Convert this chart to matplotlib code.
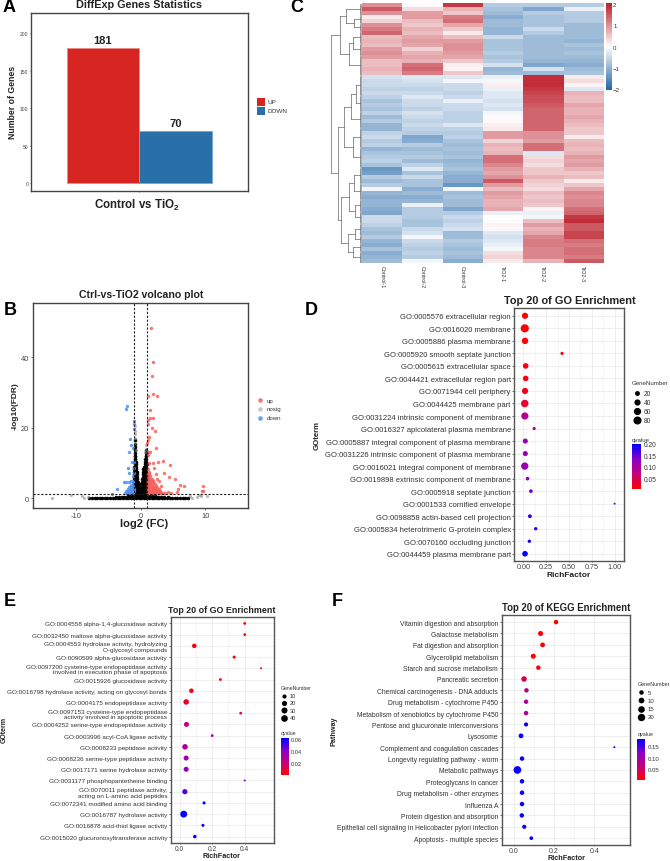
import numpy as np
import matplotlib
matplotlib.use('Agg')
import matplotlib.pyplot as plt
from matplotlib.colors import LinearSegmentedColormap, Normalize

plt.rcParams['font.family'] = ['Liberation Sans', 'DejaVu Sans']
plt.rcParams['mathtext.fontset'] = 'custom'
plt.rcParams['mathtext.bf'] = 'Liberation Sans:bold'
plt.rcParams['mathtext.rm'] = 'Liberation Sans'

W, H = 670, 862

# ---- panel A
bar_groups = ['UP', 'DOWN']
bar_counts = [181, 70]
bar_ticks = [0, 50, 100, 150, 200]

# ---- panel C, z-scores read per row (65 bands from top to bottom)
heat_columns = ['Control-1', 'Control-2', 'Control-3', 'TiO2-1', 'TiO2-2', 'TiO2-3']
heat_c1 = [1.0, 1.5, 1.0, 0.2, 0.4, 1.0, 1.2, 1.4, 0.6, 0.7, 0.6, 0.9, 1.0, 0.9, 0.6, 0.6, 0.7, 0.6,
           -0.4, -0.5, -0.5, -0.6, -0.5, -0.6, -0.8, -0.7, -0.8, -0.6, -0.9, -0.7, -1.0, -1.0, -0.6,
           -0.5, -0.7, -0.6, -1.0, -0.8, -0.7, -0.6, -0.8, -1.4, -1.3, -0.7, -0.9, -0.7, -0.1, -1.0, -1.1,
           -1.0, -1.0, -1.1, -1.2, -0.5, -0.5, -0.6, -0.8, -0.9, -0.7, -1.0, -1.1, -0.8, -1.1, -1.0, -0.9]
heat_c2 = [0.05, 0.3, 0.9, 0.9, 0.6, 0.5, 0.7, 0.6, 0.8, 0.9, 0.8, 0.4, 0.7, 0.8, 0.7, 1.3, 1.4, 1.2,
           -0.3, -0.4, -0.5, -0.6, -0.5, -0.3, -0.5, -0.5, -0.6, -0.4, -0.5, -0.6, -0.5, -0.6, -0.7,
           -1.2, -1.1, -0.7, -0.9, -0.8, -0.7, -0.9, -0.6, -0.3, -0.8, -0.5, -0.8, -0.8, -1.1, -0.9, -1.1,
           -1.0, -0.2, -0.7, -0.7, -0.7, -0.8, -0.8, -0.5, -0.4, -0.1, -0.5, -0.6, -0.7, -0.6, -0.7, -0.1]
heat_c3 = [1.8, 0.7, 0.5, 1.2, 1.3, 0.8, 0.5, 0.2, 0.6, 0.9, 1.0, 1.0, 0.9, 0.8, 0.5, 0.15, 0.1, 0.5,
           -0.3, -0.1, -0.5, -0.5, -0.6, -0.5, -0.2, -0.5, -0.5, -0.6, -0.6, -0.6, -0.3, -0.6, -0.7,
           -0.6, -0.8, -0.9, -0.8, -0.9, -0.8, -1.0, -0.9, -0.8, -1.0, -1.1, -1.1, -1.4, -0.1, -0.9, -0.8,
           -0.9, -0.9, -1.2, -0.7, -0.5, -0.6, -0.5, -0.4, -0.9, -0.9, -0.7, -0.8, -0.9, -0.8, -0.9, -1.1]
heat_c4 = [-0.7, -0.8, -0.9, -1.1, -0.9, -0.9, -1.0, -1.0, -0.5, -0.8, -0.8, -0.8, -0.7, -0.8, -0.7, -0.4, -1.0, -0.9,
           -0.2, -0.1, 0.15, -0.2, -0.3, -0.3, -0.4, -0.3, -0.4, -0.1, 0.05, 0.05, 0.15, 0.2, 0.9,
           0.9, 0.4, 0.7, 0.6, 0.7, 1.3, 1.3, 1.1, 0.9, 0.8, 1.0, 1.5, 0.9, 0.6, 0.9, 0.8,
           0.7, 0.7, 0.8, -0.2, 0.0, 0.02, 0.1, 0.05, -0.3, -0.4, -0.3, -0.2, -0.1, 0.3, 0.4, 0.2]
heat_c5 = [-0.7, -1.2, -0.7, -0.8, -0.8, -0.8, -0.5, -0.7, -0.9, -0.9, -0.9, -0.9, -0.9, -0.9, -1.0, -1.2, -0.4, -0.9,
           1.9, 1.9, 1.9, 1.8, 1.7, 1.6, 1.6, 1.5, 1.4, 1.4, 1.4, 1.4, 1.4, 1.4, 1.0,
           1.0, 0.9, 1.3, 1.3, -0.3, 0.3, 0.4, 0.3, 0.5, 0.5, 0.7, 0.5, 0.4, 0.3, 0.6, 0.5,
           0.6, 0.5, 0.1, -0.2, -0.1, 0.6, 0.9, 0.7, 0.8, 1.1, 1.2, 1.2, 1.1, 1.1, 1.1, 0.7]
heat_c6 = [-0.7, -0.2, -0.7, -0.7, -0.7, -0.9, -0.9, -0.9, -0.9, -1.0, -0.8, -0.9, -0.8, -0.9, -1.0, -1.1, -0.9, -0.8,
           0.2, 0.3, 0.1, -0.3, 0.7, 0.6, 0.6, 0.8, 0.7, 0.7, 0.8, 0.7, 0.6, 0.5, 0.5,
           0.2, 0.6, 0.7, 0.6, 0.7, 0.9, 0.8, 0.9, 0.7, 0.5, 0.6, 0.2, 0.5, 0.8, 1.1, 1.0,
           1.1, 1.1, 1.3, 1.4, 1.8, 1.9, 1.5, 1.5, 1.7, 1.7, 1.3, 1.2, 1.3, 1.3, 1.2, 1.5]
# dendrogram, (height, left, right), an int is a bundle of rows
tree_top = (22, (16, 3, (8, 2, 2)), (13, (9, 3, 3), 5))
tree_upper = (18, (11, (6, 5, 4), 4), (9, 5, 5))
tree_lower = (21, (13, (8, 4, 4), (7, 3, 3)), (14, (7, 3, 2), (9, 2, 3)))
tree_root = (30.5, tree_top, (24, tree_upper, tree_lower))

# ---- panel B, points
up_points = [(1.55, 48.2), (1.86, 38.6), (1.75, 34.8), (1.86, 29.6), (2.58, 29.0), (1.2, 29.0), (1.5, 25.0),
             (1.5, 22.7), (2.0, 22.7), (1.13, 22.3), (1.13, 21.0), (1.7, 20.0), (2.27, 19.2), (1.3, 17.3),
             (1.08, 15.7), (1.2, 16.6), (2.37, 14.4), (1.13, 13.2), (1.5, 13.0), (1.1, 12.4), (1.34, 10.0),
             (2.0, 10.0), (2.68, 10.2), (3.5, 10.5), (4.6, 9.5), (1.2, 8.4), (2.06, 8.5), (1.34, 7.6),
             (2.4, 6.9), (3.56, 7.3), (4.33, 6.0), (5.26, 5.6), (6.03, 3.8), (6.75, 3.6), (5.8, 2.6),
             (9.7, 3.4), (9.43, 2.2), (9.64, 2.0), (4.7, 1.5), (5.6, 1.9), (3.2, 3.6), (2.8, 4.9), (2.5, 5.6),
             (3.8, 1.6), (4.2, 1.7)]
# the solid red wedge, each row is one height with its x values
up_rows = [
    (1.5, [1.1, 1.36, 1.62, 1.88, 2.14, 2.4, 2.66, 2.92, 3.18, 3.4]),
    (2.0, [1.1, 1.38, 1.66, 1.94, 2.22, 2.5, 2.78, 3.0]),
    (2.5, [1.12, 1.4, 1.68, 1.96, 2.24, 2.52, 2.8]),
    (3.0, [1.1, 1.38, 1.66, 1.94, 2.22, 2.6]),
    (3.5, [1.12, 1.4, 1.68, 1.96, 2.4]),
    (4.0, [1.1, 1.4, 1.7, 2.2]),
    (4.5, [1.12, 1.42, 1.72, 2.0]),
    (5.0, [1.1, 1.4, 1.9]),
    (5.6, [1.12, 1.42, 1.7]),
    (6.2, [1.1, 1.5]),
    (6.8, [1.12, 1.3]),
]
down_points = [(-2.06, 26.1), (-2.3, 25.4), (-0.98, 22.0), (-1.02, 21.0), (-0.95, 19.7), (-1.65, 16.8),
               (-1.44, 15.1), (-1.13, 14.2), (-1.75, 13.0), (-1.3, 10.3), (-1.0, 10.4), (-1.86, 8.5),
               (-1.75, 7.2), (-1.0, 7.1), (-2.58, 4.7), (-2.27, 4.7), (-1.4, 5.0), (-1.15, 6.4), (-3.56, 2.6),
               (-4.4, 1.3), (-2.4, 1.5), (-2.1, 1.5), (-1.8, 1.6), (-1.5, 1.5), (-1.2, 1.5), (-2.2, 2.0),
               (-1.9, 2.1), (-1.6, 2.0), (-1.3, 2.1), (-1.05, 2.0), (-1.9, 2.6), (-1.6, 2.6), (-1.3, 2.7),
               (-1.05, 2.6), (-1.7, 3.2), (-1.4, 3.2), (-1.1, 3.3), (-1.5, 3.8), (-1.2, 3.9), (-1.1, 4.5),
               (-1.2, 5.0), (-1.7, 4.7), (-1.05, 8.6)]
nosig_points = [(-13.7, 0.0), (-10.7, 0.95), (-9.1, 0.55), (-8.8, 0.2), (-8.1, 0.3), (7.6, 0.6), (7.9, 0.2),
                (8.7, 0.3), (9.4, 0.75), (10.3, 0.6), (9.0, 0.9), (-0.9, 20.6), (-0.85, 19.2), (-0.92, 18.2),
                (-0.8, 17.2), (0.8, 15.0), (0.9, 14.0), (0.7, 13.2), (-0.85, 15.6), (-0.7, 13.6)]
# black mass: each row is one height with the x values seen there
dense_rows = [
    (0.2, [-7.9, -7.5, -7.1, -6.7, -6.3, -5.9, -5.5, -5.1, -4.7, -4.3, -3.9, -3.5, -3.1, -2.7, -2.3, -1.9, -1.5, -1.1,
           -0.7, -0.3, 0.1, 0.5, 0.9, 1.3, 1.7, 2.1, 2.5, 2.9, 3.3, 3.7, 4.1, 4.5, 4.9, 5.3, 5.7, 6.1, 6.5, 6.9, 7.3]),
    (0.5, [-3.8, -3.3, -2.9, -2.5, -2.1, -1.7, -1.3, -0.9, -0.5, -0.1, 0.3, 0.7, 1.1, 1.5, 1.9, 2.3, 2.7, 3.1, 3.6, 4.2]),
    (0.9, [-1.9, -1.5, -1.1, -0.7, -0.3, 0.1, 0.5, 0.9, 1.3, 1.7, 2.2]),
    (1.3, [-1.2, -0.8, -0.4, 0.0, 0.3, 0.7, 1.0]),
    (1.9, [-1.0, -0.7, -0.4, -0.15, 0.15, 0.4, 0.7, 0.95]),
    (2.6, [-1.0, -0.7, -0.42, -0.2, 0.2, 0.45, 0.7, 0.95]),
    (3.3, [-0.98, -0.72, -0.45, -0.25, 0.22, 0.5, 0.75, 0.98]),
    (4.0, [-0.98, -0.7, -0.48, -0.3, 0.25, 0.52, 0.76, 0.98]),
    (4.7, [-0.96, -0.72, -0.5, -0.32, 0.28, 0.55, 0.78, 0.97]),
    (5.4, [-0.97, -0.74, -0.52, 0.3, 0.58, 0.8, 0.98]),
    (6.1, [-0.96, -0.75, -0.55, 0.33, 0.6, 0.8, 0.97]),
    (6.8, [-0.97, -0.76, -0.57, 0.36, 0.62, 0.82, 0.98]),
    (7.5, [-0.95, -0.75, -0.6, 0.4, 0.65, 0.85]),
    (8.2, [-0.96, -0.78, -0.62, 0.45, 0.7, 0.88]),
    (8.9, [-0.95, -0.78, -0.65, 0.55, 0.75, 0.9]),
    (9.6, [-0.9, -0.72, 0.62, 0.8, 0.95]),
    (10.4, [-0.92, -0.75, 0.7, 0.88]),
    (11.2, [-0.88, -0.78, 0.75, 0.92]),
    (12.0, [-0.9, -0.8, 0.78, 0.9]),
    (12.8, [-0.88, 0.82, 0.95]),
    (13.6, [-0.92, 0.85]),
    (14.5, [-0.85]),
    (15.5, [-0.9]),
    (16.5, [-0.88]),
]

# ---- panel D
d_terms = ['GO:0005576 extracellular region', 'GO:0016020 membrane', 'GO:0005886 plasma membrane',
           'GO:0005920 smooth septate junction', 'GO:0005615 extracellular space',
           'GO:0044421 extracellular region part', 'GO:0071944 cell periphery', 'GO:0044425 membrane part',
           'GO:0031224 intrinsic component of membrane', 'GO:0016327 apicolateral plasma membrane',
           'GO:0005887 integral component of plasma membrane', 'GO:0031226 intrinsic component of plasma membrane',
           'GO:0016021 integral component of membrane', 'GO:0019898 extrinsic component of membrane',
           'GO:0005918 septate junction', 'GO:0001533 cornified envelope', 'GO:0098858 actin-based cell projection',
           'GO:0005834 heterotrimeric G-protein complex', 'GO:0070160 occluding junction',
           'GO:0044459 plasma membrane part']
d_rich = [0.019, 0.016, 0.019, 0.424, 0.026, 0.026, 0.019, 0.016, 0.017, 0.119, 0.022, 0.022, 0.016, 0.046,
          0.083, 1.0, 0.072, 0.136, 0.066, 0.019]
d_genes = [40, 84, 44, 5, 30, 30, 40, 66, 60, 5, 22, 22, 62, 8, 8, 2, 10, 6, 6, 30]
d_q = [0.006, 0.007, 0.007, 0.01, 0.015, 0.015, 0.02, 0.03, 0.09, 0.10, 0.12, 0.12, 0.12, 0.14, 0.15, 0.16,
       0.17, 0.18, 0.19, 0.2]

# ---- panel E
e_terms = ['GO:0004558 alpha-1,4-glucosidase activity', 'GO:0032450 maltose alpha-glucosidase activity',
           'GO:0004553 hydrolase activity, hydrolyzing\nO-glycosyl compounds', 'GO:0090599 alpha-glucosidase activity',
           'GO:0097200 cysteine-type endopeptidase activity\ninvolved in execution phase of apoptosis',
           'GO:0015926 glucosidase activity', 'GO:0016798 hydrolase activity, acting on glycosyl bonds',
           'GO:0004175 endopeptidase activity', 'GO:0097153 cysteine-type endopeptidase\nactivity involved in apoptotic process',
           'GO:0004252 serine-type endopeptidase activity', 'GO:0003996 acyl-CoA ligase activity',
           'GO:0008233 peptidase activity', 'GO:0008236 serine-type peptidase activity',
           'GO:0017171 serine hydrolase activity', 'GO:0031177 phosphopantetheine binding',
           'GO:0070011 peptidase activity,\nacting on L-amino acid peptides', 'GO:0072341 modified amino acid binding',
           'GO:0016787 hydrolase activity', 'GO:0016878 acid-thiol ligase activity',
           'GO:0015020 glucuronosyltransferase activity']
e_rich = [0.4, 0.4, 0.09, 0.335, 0.5, 0.25, 0.072, 0.04, 0.375, 0.042, 0.2, 0.033, 0.04, 0.04, 0.4, 0.032,
          0.15, 0.025, 0.143, 0.093]
e_genes = [3, 3, 13, 4, 2, 3, 13, 24, 3, 18, 3, 24, 18, 18, 2, 20, 4, 44, 4, 6]
e_q = [0.002, 0.002, 0.003, 0.003, 0.004, 0.005, 0.006, 0.008, 0.01, 0.022, 0.035, 0.03, 0.037, 0.04, 0.047,
       0.05, 0.062, 0.062, 0.062, 0.062]

# ---- panel F
f_terms = ['Vitamin digestion and absorption', 'Galactose metabolism', 'Fat digestion and absorption',
           'Glycerolipid metabolism', 'Starch and sucrose metabolism', 'Pancreatic secretion',
           'Chemical carcinogenesis - DNA adducts', 'Drug metabolism - cytochrome P450',
           'Metabolism of xenobiotics by cytochrome P450', 'Pentose and glucuronate interconversions', 'Lysosome',
           'Complement and coagulation cascades', 'Longevity regulating pathway - worm', 'Metabolic pathways',
           'Proteoglycans in cancer', 'Drug metabolism - other enzymes', 'Influenza A', 'Protein digestion and absorption',
           'Epithelial cell signaling in Helicobacter pylori infection', 'Apoptosis - multiple species']
f_rich = [0.21, 0.133, 0.143, 0.097, 0.122, 0.051, 0.063, 0.061, 0.061, 0.061, 0.036, 0.5, 0.041, 0.018, 0.041,
          0.041, 0.041, 0.04, 0.052, 0.087]
f_genes = [5, 7, 6, 7, 5, 9, 5, 5, 5, 4, 6, 1, 5, 22, 5, 5, 5, 5, 4, 3]
f_q = [0.005, 0.005, 0.006, 0.006, 0.01, 0.04, 0.08, 0.09, 0.09, 0.18, 0.18, 0.18, 0.18, 0.18, 0.18, 0.18, 0.18,
       0.18, 0.18, 0.18]

fig = plt.figure(figsize=(W / 100, H / 100), dpi=100)


def px_axes(left, top, right, bottom, **kw):
    return fig.add_axes([left / W, 1 - bottom / H, (right - left) / W, (bottom - top) / H], **kw)


# overlay in pixel coordinates for titles and legends
over = fig.add_axes([0, 0, 1, 1], zorder=10)
over.set_xlim(0, W)
over.set_ylim(H, 0)
over.axis('off')


def label(x, y, s, size=5, weight='normal', color='#333333', ha='center', rotation=0):
    over.text(x, y, s, fontsize=size, fontweight=weight, color=color, ha=ha, va='center', rotation=rotation)


for letter, lx, ly in [('A', 3, 7), ('C', 290, 7), ('B', 4, 311), ('D', 305, 311), ('E', 4, 602), ('F', 332, 602)]:
    label(lx, ly, letter, size=13, weight='bold', color='black', ha='left')

# A: bars
ax = px_axes(31, 14, 248, 192)
ax.bar([-0.5, 0.5], bar_counts, width=1, color=['#D62421', '#2A70A8'], edgecolor=['#E88A86', '#78A8CF'], linewidth=0.6)
for i, c in enumerate(bar_counts):
    ax.text(i - 0.5, c + 4, str(c), ha='center', va='bottom', fontsize=8, fontweight='bold', color='#222222')
ax.set_xlim(-1.49, 1.503)
ax.set_ylim(-10.3, 227)
ax.set_xticks([0])
ax.set_xticklabels([''])
ax.set_yticks(bar_ticks)
ax.tick_params(axis='y', labelsize=3.6, length=1, width=0.4, pad=1, labelcolor='#444444')
ax.tick_params(axis='x', length=1, width=0.4)
for s in ax.spines.values():
    s.set_linewidth(1)
    s.set_color('#444444')
label(139, 4.7, 'DiffExp Genes Statistics', size=7.8, weight='bold', color='#222222')
label(12.3, 102.7, 'Number of Genes', size=6.3, weight='bold', color='#222222', rotation=90)
label(137, 205, r'Control vs TiO$\mathbf{_2}$', size=8.3, weight='bold', color='#222222')
over.fill_between([257, 264.5], 98.5, 106.5, color='#D62421', lw=0)
over.fill_between([257, 264.5], 107.5, 115.5, color='#2A70A8', lw=0)
label(268, 102.5, bar_groups[0], size=4.6, ha='left')
label(268, 111.5, bar_groups[1], size=4.6, ha='left')

# C: heatmap
heat = np.array([heat_c1, heat_c2, heat_c3, heat_c4, heat_c5, heat_c6]).T
heat_cmap = LinearSegmentedColormap.from_list('heat', ['#2A6BAA', '#FFFFFF', '#BE2430'])
ax = px_axes(361.7, 4, 603, 264)
ax.imshow(heat, aspect='auto', cmap=heat_cmap, vmin=-2, vmax=2, interpolation='nearest')
ax.axis('off')
for i, name in enumerate(heat_columns):
    over.text(361.7 + (i + 0.5) * 40.2, 266, name, fontsize=3.9, rotation=270, ha='center', va='top', color='#333333')

cax = px_axes(605.7, 4, 611.7, 91)
cax.imshow(np.linspace(2.05, -2.05, 200)[:, None], aspect='auto', cmap=heat_cmap, vmin=-2, vmax=2,
           extent=[0, 1, -2.05, 2.05])
cax.set_xticks([])
cax.yaxis.tick_right()
cax.set_yticks([-2, -1, 0, 1, 2])
cax.tick_params(axis='y', length=0, labelsize=4.4, pad=1, labelcolor='#333333')
for s in cax.spines.values():
    s.set_visible(False)

dax = px_axes(329, 4, 361.7, 264)
dax.set_xlim(32.7, 0)
dax.set_ylim(65, 0)
dax.axis('off')
row_pos = [0]


def draw_tree(node):
    # returns the row centre of the node
    if isinstance(node, int):
        start = row_pos[0]
        row_pos[0] += node
        ys = [start + j * 0.25 + 0.125 for j in range(node * 4)]
        dax.hlines(ys, 0, 1.6, color='#8a8a8a', lw=0.5)
        dax.vlines(1.6, ys[0], ys[-1], color='#777777', lw=0.5)
        return start + node / 2
    h, left, right = node
    y1 = draw_tree(left)
    y2 = draw_tree(right)
    for y, child in ((y1, left), (y2, right)):
        hc = 1.6 if isinstance(child, int) else child[0]
        dax.plot([hc, h], [y, y], color='#666666', lw=0.5)
    dax.plot([h, h], [y1, y2], color='#666666', lw=0.5)
    return (y1 + y2) / 2


draw_tree(tree_root)

# B: volcano
ax = px_axes(33, 303.7, 248, 508.7)
for y, xs in dense_rows:
    ax.scatter(xs, [y] * len(xs), s=6.5, color='black', lw=0, zorder=2)
nx, ny = zip(*nosig_points)
ax.scatter(nx, ny, s=5, color='#8c8c8c', alpha=0.6, lw=0, zorder=2)
ux, uy = zip(*up_points)
ax.scatter(ux, uy, s=6, color='#F8605C', alpha=0.85, lw=0, zorder=3)
for y, xs in up_rows:
    ax.scatter(xs, [y] * len(xs), s=7, color='#F8605C', alpha=0.85, lw=0, zorder=3)
bx, by = zip(*down_points)
ax.scatter(bx, by, s=6, color='#4D8FF5', alpha=0.85, lw=0, zorder=3)
ax.axvline(-1, color='#222222', ls=(0, (2, 1.5)), lw=0.8, zorder=4)
ax.axvline(1, color='#222222', ls=(0, (2, 1.5)), lw=0.8, zorder=4)
ax.axhline(1.3, color='#222222', ls=(0, (2, 1.5)), lw=0.8, zorder=4)
ax.set_xlim(-16.6, 16.6)
ax.set_ylim(-2.67, 55.5)
ax.set_xticks([-10, 0, 10])
ax.set_xticklabels(['-10', '0', '10'])
ax.set_yticks([0, 20, 40])
ax.tick_params(labelsize=5.4, length=1.5, width=0.4, pad=1.5, labelcolor='#444444')
for s in ax.spines.values():
    s.set_linewidth(1)
    s.set_color('#444444')
label(140.7, 294.7, 'Ctrl-vs-TiO2 volcano plot', size=7.6, weight='bold', color='#222222')
label(144, 524, 'log2 (FC)', size=8, weight='bold', color='#222222')
label(15.5, 406, '-log10(FDR)', size=6, weight='bold', color='#222222', rotation=90)
for name, col, ly in [('up', '#F8605C', 401.3), ('nosig', '#BDBDBD', 410), ('down', '#4D8FF5', 418.7)]:
    over.scatter([260.3], [ly], s=11, color=col, alpha=0.85, lw=0)
    label(266.7, ly, name, size=4.4, ha='left')

# D, E, F: enrichment dots
q_cmap = LinearSegmentedColormap.from_list('q', ['#FF0000', '#C4007C', '#8A00C8', '#0000FF'])


def gene_diam(g, gmin, gmax, dmin, dmax):
    return dmin + (dmax - dmin) * np.sqrt((np.array(g, dtype=float) - gmin) / (gmax - gmin))


def dots(box, xlim, xticks, xfmt, terms, rich, genes, q, qlim, grange, drange, tsize):
    ax = px_axes(*box)
    ypos = np.arange(len(terms))
    ax.scatter(rich, ypos, s=(gene_diam(genes, *grange, *drange) * 0.72) ** 2,
               c=q, cmap=q_cmap, norm=Normalize(*qlim), lw=0, zorder=3)
    ax.set_xlim(*xlim)
    ax.set_ylim(len(terms) - 0.4, -0.6)
    ax.set_yticks(ypos)
    ax.set_yticklabels(terms, linespacing=1.1, ha='right')
    ax.set_xticks(xticks)
    ax.set_xticklabels([xfmt % t for t in xticks])
    ax.set_xticks([(a + b) / 2 for a, b in zip(xticks[:-1], xticks[1:])], minor=True)
    ax.tick_params(axis='y', labelsize=tsize, length=1.5, width=0.4, pad=1, labelcolor='#333333')
    ax.tick_params(axis='x', labelsize=min(tsize, 5) + 0.2, length=1, width=0.4, pad=0.4, labelcolor='#444444')
    ax.tick_params(axis='x', which='minor', length=0)
    ax.grid(True, which='major', color='#E8E8E8', lw=0.5)
    ax.grid(True, which='minor', axis='x', color='#F0F0F0', lw=0.4)
    ax.set_axisbelow(True)
    for s in ax.spines.values():
        s.set_linewidth(1)
        s.set_color('#555555')
    return ax


def size_legend(tx, ty, dx, lx, ys, values, grange, drange, tsize):
    label(tx, ty, 'GeneNumber', size=tsize, ha='left')
    for v, ly in zip(values, ys):
        d = gene_diam(v, *grange, *drange) * 0.72
        over.scatter([dx], [ly], s=d ** 2, color='black', lw=0)
        label(lx, ly, str(v), size=tsize + 0.4, ha='left')


def q_legend(box, tty, lx, qlim, ticks, fmt, tsize):
    label(box[0], tty, 'qvalue', size=tsize, ha='left')
    bar = px_axes(*box)
    bar.imshow(np.linspace(qlim[1], qlim[0], 200)[:, None], aspect='auto', cmap=q_cmap, norm=Normalize(*qlim),
               extent=[0, 1, qlim[0], qlim[1]])
    bar.axis('off')
    for t in ticks:
        ly = box[1] + (qlim[1] - t) / (qlim[1] - qlim[0]) * (box[3] - box[1])
        label(lx, ly, fmt % t, size=tsize + 0.4, ha='left')


d_range = (2, 84)
d_px = (2, 8.2)
e_range = (2, 44)
e_px = (2, 6.9)
f_range = (1, 22)
f_px = (2, 7.7)

dots((514.3, 309.3, 624, 562.3), (-0.0986, 1.103), [0, 0.25, 0.5, 0.75, 1.0], '%.2f', d_terms, d_rich, d_genes, d_q,
     (0.006, 0.203), d_range, d_px, 5.5)
label(569.5, 301, 'Top 20 of GO Enrichment', size=7.9, weight='bold', color='#222222')
label(569, 576, 'RichFactor', size=6, weight='bold', color='#222222')
label(317, 436, 'GOterm', size=5.6, weight='bold', color='#222222', rotation=90)
size_legend(632, 384, 636.7, 644, [394.3, 403.3, 412.3, 421.3], [20, 40, 60, 80], d_range, d_px, 4.4)
q_legend((632, 445.3, 641, 490), 440.3, 644, (0.006, 0.203), [0.05, 0.10, 0.15, 0.20], '%.2f', 4.4)

dots((170.7, 617.7, 273.7, 844.3), (-0.055, 0.578), [0.0, 0.2, 0.4], '%.1f', e_terms, e_rich, e_genes, e_q,
     (0.0017, 0.0628), e_range, e_px, 4.55)
label(222, 610.7, 'Top 20 of GO Enrichment', size=6.4, weight='bold', color='#222222')
label(221.7, 856.5, 'RichFactor', size=5.2, weight='bold', color='#222222')
label(4, 730, 'GOterm', size=5, weight='bold', color='#222222', rotation=90)
size_legend(280.7, 688.7, 284.3, 290, [696.7, 704, 711.3, 719], [10, 20, 30, 40], e_range, e_px, 3.7)
q_legend((280.7, 739, 288, 775.7), 734, 290.3, (0.0017, 0.0628), [0.02, 0.04, 0.06], '%.2f', 3.7)

dots((501.7, 616.3, 630.3, 846), (-0.06, 0.579), [0.0, 0.2, 0.4], '%.1f', f_terms, f_rich, f_genes, f_q,
     (0.0044, 0.184), f_range, f_px, 4.85)
label(566, 608.5, 'Top 20 of KEGG Enrichment', size=6.9, weight='bold', color='#222222')
label(566, 858.5, 'RichFactor', size=5.2, weight='bold', color='#222222')
label(334, 731, 'Pathway', size=5.2, weight='bold', color='#222222', rotation=90)
size_legend(637.3, 684.3, 641.3, 648, [693.3, 701.3, 709.7, 718], [5, 10, 15, 20], f_range, f_px, 3.9)
q_legend((637.3, 740, 645.3, 780.7), 735, 648, (0.0044, 0.184), [0.05, 0.10, 0.15], '%.2f', 3.9)

fig.savefig('out.png', dpi=100)
